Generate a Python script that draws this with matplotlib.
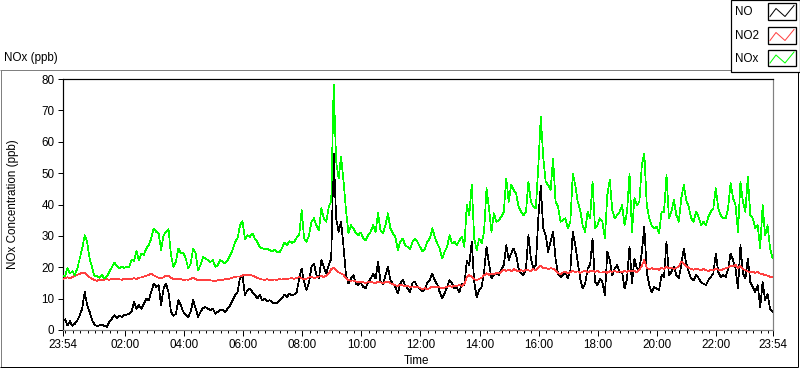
import numpy as np
import matplotlib
matplotlib.use("Agg")
import matplotlib.pyplot as plt
from matplotlib.lines import Line2D
from matplotlib.patches import Rectangle
from matplotlib.ticker import FixedLocator

plt.rcParams['font.family'] = ['Liberation Sans', 'DejaVu Sans']

# ---------------- data (ppb, one sample every 5 minutes from 23:54) ----------------
sample_step_min = 5
series_names = ["NO", "NO2", "NOx"]

no_ppb = [
    2.6, 3.4, 1.5, 2.8, 1.3, 2.0, 3.1, 4.7, 6.8, 12.2,
    7.9, 5.8, 3.1, 1.7, 1.3, 1.5, 1.8, 1.3, 1.0, 2.6,
    3.6, 4.7, 3.8, 4.5, 4.2, 4.7, 4.9, 5.2, 5.8, 8.9,
    6.8, 7.9, 6.8, 8.4, 10.0, 9.5, 12.1, 14.8, 13.7, 14.3,
    7.9, 13.2, 14.8, 12.1, 5.8, 4.5, 5.2, 9.5, 7.9, 5.8,
    4.7, 4.2, 5.8, 9.5, 6.8, 4.2, 5.8, 7.0, 7.3, 6.8,
    6.3, 6.8, 5.2, 5.8, 6.5, 6.3, 5.8, 6.8, 7.9, 9.5,
    11.1, 12.1, 16.6,
    17.5, 11.0, 12.7, 13.2, 12.1, 11.3, 10.0, 11.1, 9.5, 10.0,
    9.2, 9.5, 8.9, 8.4, 8.7, 9.5, 10.0, 11.3, 10.5, 11.6,
    11.1, 11.3, 12.1, 16.4, 19.6, 15.3, 12.7, 15.3, 20.1, 21.2,
    17.5, 16.4, 22.3, 20.1, 18.0, 20.7, 22.8, 56.3, 35.6, 31.3,
    34.5, 26.5, 17.5, 14.8, 16.4, 17.5, 14.8, 14.3, 15.1, 13.7,
    13.4, 15.3, 16.4, 18.0, 16.4, 21.7, 15.3, 14.5, 17.5, 20.1,
    15.9, 14.8, 13.7, 11.6, 14.8, 15.9, 14.3, 13.2, 12.1, 15.1,
    15.3, 13.7, 13.0,
    12.4, 13.0, 15.1, 15.9, 18.0, 15.9, 14.5, 12.1, 10.2, 11.6,
    13.7, 15.9, 14.8, 13.2, 13.4, 12.1, 14.8, 14.3, 22.0, 20.7,
    28.1, 15.3, 10.5, 12.7, 13.7, 18.5, 26.5, 21.2, 16.4, 17.5,
    18.0, 17.5, 19.1, 20.7, 27.0, 22.3, 24.4, 26.0, 23.9, 19.6,
    18.0, 17.5, 19.6, 30.2, 22.8, 19.6, 20.7, 35.6, 46.0, 32.4,
    30.2, 24.9, 28.1, 31.3, 22.8, 18.0, 16.9, 17.5, 18.5, 16.4,
    19.1, 31.3, 27.0, 21.7, 16.4, 13.2, 14.8, 19.6, 20.7, 29.2,
    15.3, 14.3, 16.4,
    15.3, 11.1, 24.9, 22.3, 17.5, 19.6, 20.7, 18.5, 18.5, 13.2,
    16.4, 26.5, 14.8, 22.8, 19.6, 19.1, 24.9, 32.9, 18.5, 14.3,
    12.1, 13.7, 13.2, 12.7, 17.5, 16.9, 28.1, 17.5, 18.5, 20.1,
    17.5, 16.4, 20.7, 26.0, 21.2, 18.5, 16.4, 15.9, 17.5, 16.6,
    15.1, 14.8, 14.3, 15.9, 16.9, 18.0, 24.4, 18.5, 16.9, 17.5,
    16.9, 19.6, 24.4, 22.3, 19.6, 13.2, 27.0, 18.0, 16.4, 22.8,
    15.3, 13.7, 12.1, 14.3, 7.3, 15.3, 9.5, 11.6, 6.8, 5.8,
]

no2_ppb = [
    16.2, 16.5, 16.8, 16.5, 16.9, 17.2, 17.6, 17.9, 18.3, 18.2,
    17.5, 16.8, 16.3, 15.9, 15.7, 16.0, 15.8, 16.1, 16.2, 16.0,
    16.3, 16.1, 16.4, 16.2, 16.0, 16.3, 16.1, 16.4, 16.2, 16.5,
    16.3, 16.6, 16.8, 17.0, 17.3, 17.6, 17.9, 17.4, 17.0, 16.6,
    16.4, 16.8, 17.4, 17.2, 16.7, 16.3, 16.1, 16.4, 16.2, 15.9,
    16.1, 16.0, 16.3, 16.6, 16.2, 15.9, 16.0, 15.8, 15.9, 16.1,
    15.8, 15.7, 15.6, 15.9, 15.8, 16.0, 16.2, 16.1, 16.4, 16.7,
    16.9, 17.1, 17.0,
    17.4, 17.6, 17.5, 17.7, 17.3, 17.0, 16.6, 16.3, 16.1, 16.0,
    16.2, 16.0, 15.9, 16.1, 16.0, 16.2, 16.1, 16.3, 16.2, 16.4,
    16.5, 16.3, 16.6, 16.8, 16.5, 16.2, 16.4, 16.7, 16.9, 16.6,
    16.8, 17.0, 17.2, 16.9, 17.3, 18.0, 19.4, 19.8, 19.0, 18.4,
    18.0, 17.6, 16.5, 15.9, 15.7, 15.8, 15.5, 15.3, 15.4, 15.2,
    15.0, 15.3, 15.4, 15.1, 15.0, 15.5, 15.2, 14.9, 15.3, 15.4,
    14.9, 14.6, 14.3, 14.0, 14.5, 14.2, 13.9, 14.1, 13.7, 13.9,
    13.6, 13.8, 13.4,
    13.0, 13.3, 12.9, 13.4, 13.8, 13.5, 13.9, 13.6, 13.2, 13.5,
    13.8, 14.0, 13.7, 14.2, 14.0, 14.4, 14.1, 14.6, 16.8, 17.5,
    16.9, 16.2, 15.8, 16.3, 16.6, 17.4, 18.1, 17.6, 18.0, 17.7,
    18.2, 18.0, 18.6, 19.2, 18.8, 19.3, 18.7, 19.4, 19.0, 18.6,
    19.1, 18.8, 19.3, 19.0, 18.7, 19.4, 19.1, 20.0, 20.4, 19.6,
    19.9, 19.3, 19.7, 19.5, 19.0, 18.2, 17.8, 18.3, 18.6, 18.1,
    18.5, 18.9, 18.4, 18.7, 18.2, 18.6, 18.9, 18.3, 18.7, 19.0,
    18.5, 18.8, 18.3,
    18.3, 18.6, 18.2, 18.8, 18.5, 18.9, 18.4, 18.7, 18.3, 18.8,
    18.5, 19.0, 18.6, 18.9, 18.4, 19.2, 20.5, 22.3, 19.8, 19.4,
    19.7, 19.3, 19.6, 19.2, 19.8, 19.5, 20.1, 19.6, 19.9, 19.4,
    19.8, 20.3, 21.8, 21.2, 20.4, 19.8, 19.5, 19.2, 19.6, 19.3,
    19.0, 19.4, 19.1, 18.8, 19.2, 19.0, 19.5, 19.3, 19.0, 19.4,
    19.7, 19.9, 20.6, 20.2, 20.8, 19.6, 20.4, 19.5, 19.0, 18.7,
    18.4, 18.6, 18.2, 18.5, 18.0, 17.8, 17.5, 17.3, 17.0, 16.8,
]

nox_ppb = [
    17.5, 17.0, 19.8, 18.0, 18.7, 17.5, 19.6, 22.8, 26.0, 30.2,
    28.0, 22.8, 20.0, 17.0, 17.2, 16.6, 17.5, 16.4, 17.0, 18.5,
    20.0, 21.5, 20.4, 19.6, 20.3, 19.8, 20.1, 20.1, 22.3, 22.0,
    25.1, 22.3, 24.4, 23.9, 26.0, 27.0, 29.2, 32.4, 31.3, 30.8,
    25.5, 30.2, 31.3, 32.2, 23.9, 20.1, 21.7, 26.0, 24.4, 24.7,
    22.8, 19.6, 21.2, 26.0, 24.4, 19.1, 20.7, 23.3, 22.8, 22.3,
    21.7, 22.3, 20.1, 20.7, 22.3, 21.7, 21.2, 22.3, 23.9, 25.5,
    28.1, 29.2, 33.4,
    34.7, 29.0, 30.2, 29.7, 30.8, 29.2, 28.1, 26.5, 26.0, 25.8,
    26.0, 25.5, 25.1, 25.5, 24.9, 24.7, 26.0, 27.9, 27.0, 28.3,
    27.8, 28.1, 29.4, 30.2, 38.2, 29.2, 28.1, 30.2, 34.5, 35.6,
    33.4, 31.8, 38.8, 35.6, 34.5, 39.3, 40.9, 78.2, 53.7, 48.3,
    55.3, 47.3, 38.2, 30.8, 33.4, 32.4, 30.8, 30.2, 31.1, 29.2,
    28.6, 30.2, 31.3, 33.4, 31.3, 37.2, 31.8, 30.8, 33.4, 37.2,
    32.4, 30.8, 29.7, 25.5, 28.1, 29.2, 27.0, 26.5, 25.8, 28.1,
    29.2, 28.1, 26.5,
    25.1, 25.8, 28.1, 29.2, 32.4, 29.7, 27.6, 26.0, 22.8, 24.9,
    26.5, 30.2, 27.6, 28.1, 27.0, 28.6, 29.7, 26.5, 39.8, 36.6,
    46.2, 29.2, 25.5, 29.2, 27.6, 31.3, 45.2, 38.8, 31.3, 37.2,
    34.5, 35.0, 36.1, 37.7, 48.3, 40.9, 46.2, 44.6, 43.6, 39.3,
    37.7, 36.6, 37.7, 47.3, 40.9, 39.3, 38.8, 52.0, 68.0, 55.0,
    47.3, 46.2, 44.6, 54.7, 40.9, 39.3, 34.5, 35.0, 35.6, 32.4,
    34.5, 49.9, 46.2, 40.9, 38.2, 33.4, 31.3, 37.7, 35.6, 47.3,
    32.4, 33.4, 35.6,
    34.5, 29.2, 43.0, 47.8, 38.2, 35.6, 36.6, 37.7, 39.8, 33.4,
    37.7, 49.9, 31.3, 42.0, 39.8, 40.9, 52.6, 56.3, 39.8, 35.6,
    33.4, 32.4, 32.9, 30.8, 37.7, 37.7, 49.4, 35.6, 37.7, 41.4,
    36.6, 34.5, 42.0, 46.2, 41.4, 39.3, 35.6, 34.5, 37.7, 36.1,
    33.4, 34.5, 33.4, 36.1, 37.7, 38.8, 45.2, 38.8, 36.6, 35.6,
    35.6, 38.8, 46.8, 42.0, 39.8, 31.3, 47.3, 40.9, 37.7, 48.9,
    36.6, 35.6, 32.4, 33.4, 26.0, 39.8, 30.2, 33.4, 26.0, 23.0,
]

x_tick_labels = ["23:54", "02:00", "04:00", "06:00", "08:00", "10:00", "12:00",
                 "14:00", "16:00", "18:00", "20:00", "22:00", "23:54"]
y_ticks = [0, 10, 20, 30, 40, 50, 60, 70, 80]

series_colors = ["#000000", "#FF4040", "#00FF00"]

# ---------------- figure ----------------
W, H = 800, 369
fig = plt.figure(figsize=(W / 100, H / 100), dpi=100)
fig.patch.set_facecolor("white")

def fx(x):
    return x / W

def fy(y):
    return 1 - y / H

FS = 8.4
px = 0.72  # one pixel in points

# plot area: x 62.5..772.5, y 79..330
ax = fig.add_axes([fx(62.5), fy(330), fx(772.5) - fx(62.5), fy(79) - fy(330)])
ax.set_facecolor("white")

start_clock = 23 * 60 + 54
def minutes_since_start(label, is_last):
    h, m = map(int, label.split(":"))
    v = (h * 60 + m - start_clock) % 1440
    return 1440 if (is_last and v == 0) else v

major_pos = [minutes_since_start(l, i == len(x_tick_labels) - 1)
             for i, l in enumerate(x_tick_labels)]
minor_pos = list(range(6, 1440, 15))

t = np.arange(len(no_ppb)) * sample_step_min
for i, (vals, c) in enumerate(zip([no_ppb, no2_ppb, nox_ppb], series_colors)):
    ax.plot(t, vals, color=c, lw=0.5, zorder=2 + i, antialiased=False)

ax.set_xlim(0, 1440)
ax.set_ylim(0, 80)
ax.set_xticks(major_pos)
ax.set_xticklabels(x_tick_labels)
ax.xaxis.set_minor_locator(FixedLocator(minor_pos))
ax.set_yticks(y_ticks)
ax.set_yticklabels([str(v) for v in y_ticks])

ax.tick_params(axis='x', which='major', length=4.3, width=px, color='black',
               pad=2.0, labelsize=FS, direction='out')
ax.tick_params(axis='x', which='minor', length=2.0, width=px, color='black',
               direction='out')
ax.tick_params(axis='y', which='major', length=3.3, width=px, color='black',
               pad=2.6, labelsize=FS, direction='out')

for side, col in [("top", "black"), ("left", "black"),
                  ("bottom", "#808080"), ("right", "#808080")]:
    ax.spines[side].set_color(col)
    ax.spines[side].set_linewidth(1.2 * px)

# axis titles
fig.text(fx(417), fy(361), "Time", ha="center", va="center", fontsize=FS)
fig.text(fx(13), fy(204.5), "NOx Concentration (ppb)", rotation=90,
         ha="center", va="center", fontsize=FS)
fig.text(fx(4), fy(58), "NOx (ppb)", ha="left", va="center", fontsize=FS)

# outer panel frame
def fline(x0, y0, x1, y1, color, lw=1.0):
    fig.add_artist(Line2D([fx(x0), fx(x1)], [fy(y0), fy(y1)],
                          transform=fig.transFigure, color=color,
                          lw=lw * px, solid_capstyle='butt'))

fline(0, 69.5, 731, 69.5, "#808080")
fline(0.5, 69.5, 0.5, 367, "#808080")
fline(0, 367, 798, 367, "black")
fline(797.5, 72, 797.5, 367, "black")

# legend
fig.add_artist(Rectangle((fx(730.5), fy(71.7)), fx(800) - fx(730.5), fy(0) - fy(71.7),
                         transform=fig.transFigure, facecolor="white",
                         edgecolor="black", lw=1.2 * px, zorder=5))
row_tops = [3.5, 27.5, 50.0]
for name, c, top in zip(series_names, series_colors, row_tops):
    bot = top + 16
    fig.text(fx(735.5), fy((top + bot) / 2 + 0.5), name, ha="left", va="center",
             fontsize=FS, zorder=6)
    fig.add_artist(Rectangle((fx(768), fy(bot)), fx(796) - fx(768), fy(top) - fy(bot),
                             transform=fig.transFigure, facecolor="white",
                             edgecolor="black", lw=1.3 * px, zorder=6))
    zx = [770, 776, 785, 794]
    zy = [bot - 3, top + 5, bot - 3, top + 2]
    fig.add_artist(Line2D([fx(v) for v in zx], [fy(v) for v in zy],
                          transform=fig.transFigure, color=c, lw=px, zorder=7))

fig.savefig("out.png", dpi=100, facecolor="white")
